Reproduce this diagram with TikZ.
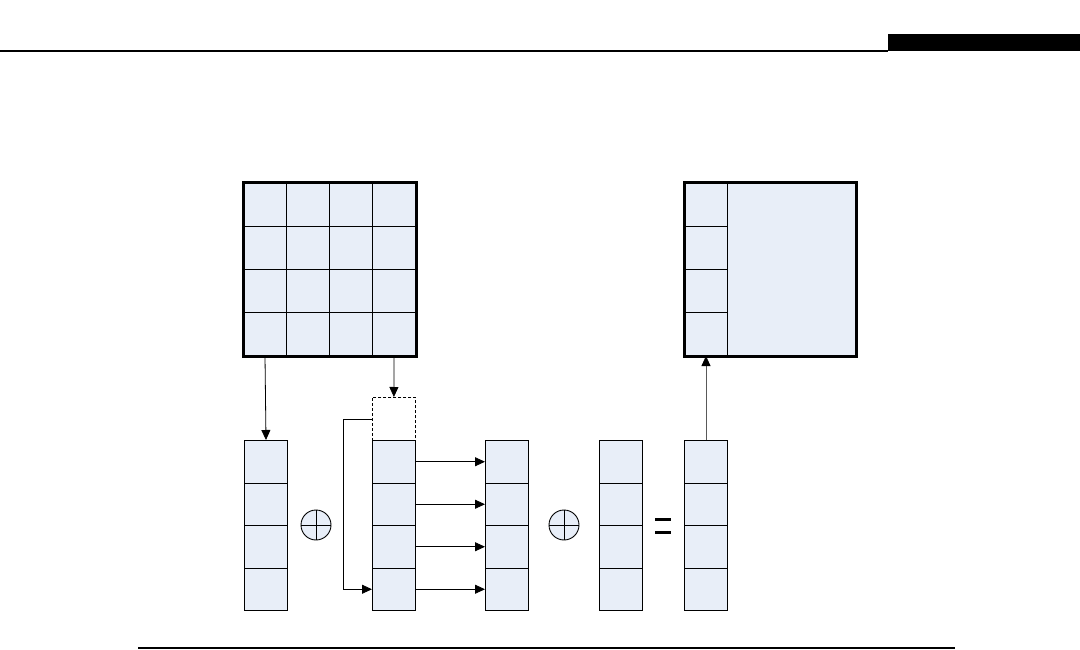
\documentclass[tikz,border=0pt]{standalone}
\usepackage{tikz}
\usetikzlibrary{arrows.meta,positioning}
\definecolor{cellblue}{RGB}{232,238,248}

\begin{document}
\begin{tikzpicture}[x=1pt,y=-1pt,
    cell/.style={draw,fill=cellblue,line width=1pt,minimum width=43pt,minimum height=43pt,inner sep=0pt,anchor=north west},
    vcell/.style={cell,minimum height=42.5pt},
    arr/.style={line width=0.8pt,-{Triangle[length=10pt,width=9pt]}},
    plus/.style={draw,fill=cellblue,circle,minimum size=30pt,inner sep=0pt,line width=0.9pt}]
    \useasboundingbox (0,0) rectangle (1080,650);

    % Kop halaman: garis atas dan kotak hitam
    \draw[line width=1.3pt] (0,51)--(888,51);
    \fill[black] (888,34) rectangle (1080,51);
    % Garis bawah
    \draw[line width=2pt] (138,648)--(955,648);

    % Matriks kiri 4x4
    \foreach \r in {1,...,4}
      \foreach \c in {1,...,4}
        \node[cell] (a\r\c) at ({243+43*(\c-1)},{183+43*(\r-1)}) {};
    \draw[line width=3pt] (a11.north west) rectangle (a44.south east);

    % Matriks kanan: kolom pertama dan sisa blok
    \foreach \r in {1,...,4}
      \node[cell] (g\r) at (684,{183+43*(\r-1)}) {};
    \node[draw,fill=cellblue,line width=1pt,anchor=north west,minimum width=128pt,minimum height=172pt,inner sep=0pt] (gblk) at (727,183) {};
    \draw[line width=3pt] (g1.north west) rectangle (gblk.south east);

    % Vektor-vektor bawah
    \foreach \r in {1,...,4} {
      \node[vcell] (b\r) at (244,{440+42.5*(\r-1)}) {};
      \node[vcell] (c\r) at (372,{440+42.5*(\r-1)}) {};
      \node[vcell] (e\r) at (485,{440+42.5*(\r-1)}) {};
      \node[vcell] (h\r) at (599,{440+42.5*(\r-1)}) {};
      \node[vcell] (f\r) at (684,{440+42.5*(\r-1)}) {};
    }
    % Kotak putus-putus di atas vektor kedua
    \node[draw,dash pattern=on 3pt off 2pt,line width=0.8pt,minimum width=43pt,minimum height=43pt,inner sep=0pt,anchor=north west] (d) at (372,397) {};
    \draw[line width=1pt] (c1.north west)--(c1.north east);

    % Simbol tambah (XOR) dan sama dengan
    \node[plus] (o1) at (316,525) {};
    \draw[line width=0.9pt] (o1.north)--(o1.south) (o1.west)--(o1.east);
    \node[plus] (o2) at (564,525) {};
    \draw[line width=0.9pt] (o2.north)--(o2.south) (o2.west)--(o2.east);
    \coordinate (eq) at (663,525.5);
    \draw[line width=3pt] ([xshift=-8pt,yshift=-6.5pt]eq)--([xshift=8pt,yshift=-6.5pt]eq);
    \draw[line width=3pt] ([xshift=-8pt,yshift=6.5pt]eq)--([xshift=8pt,yshift=6.5pt]eq);

    % Panah-panah
    \draw[arr] (a41.south)--(b1.north);
    \draw[arr] (a44.south)--(d.north);
    \draw[arr] (d.west)--++(-29,0)|-(c4.west);
    \foreach \r in {1,...,4}
      \draw[arr] (c\r.east)--(e\r.west);
    \draw[line width=0.8pt,gray!70!black,-{Triangle[length=10pt,width=9pt,color=black]}] (f1.north)--(g4.south);

\end{tikzpicture}
\end{document}
